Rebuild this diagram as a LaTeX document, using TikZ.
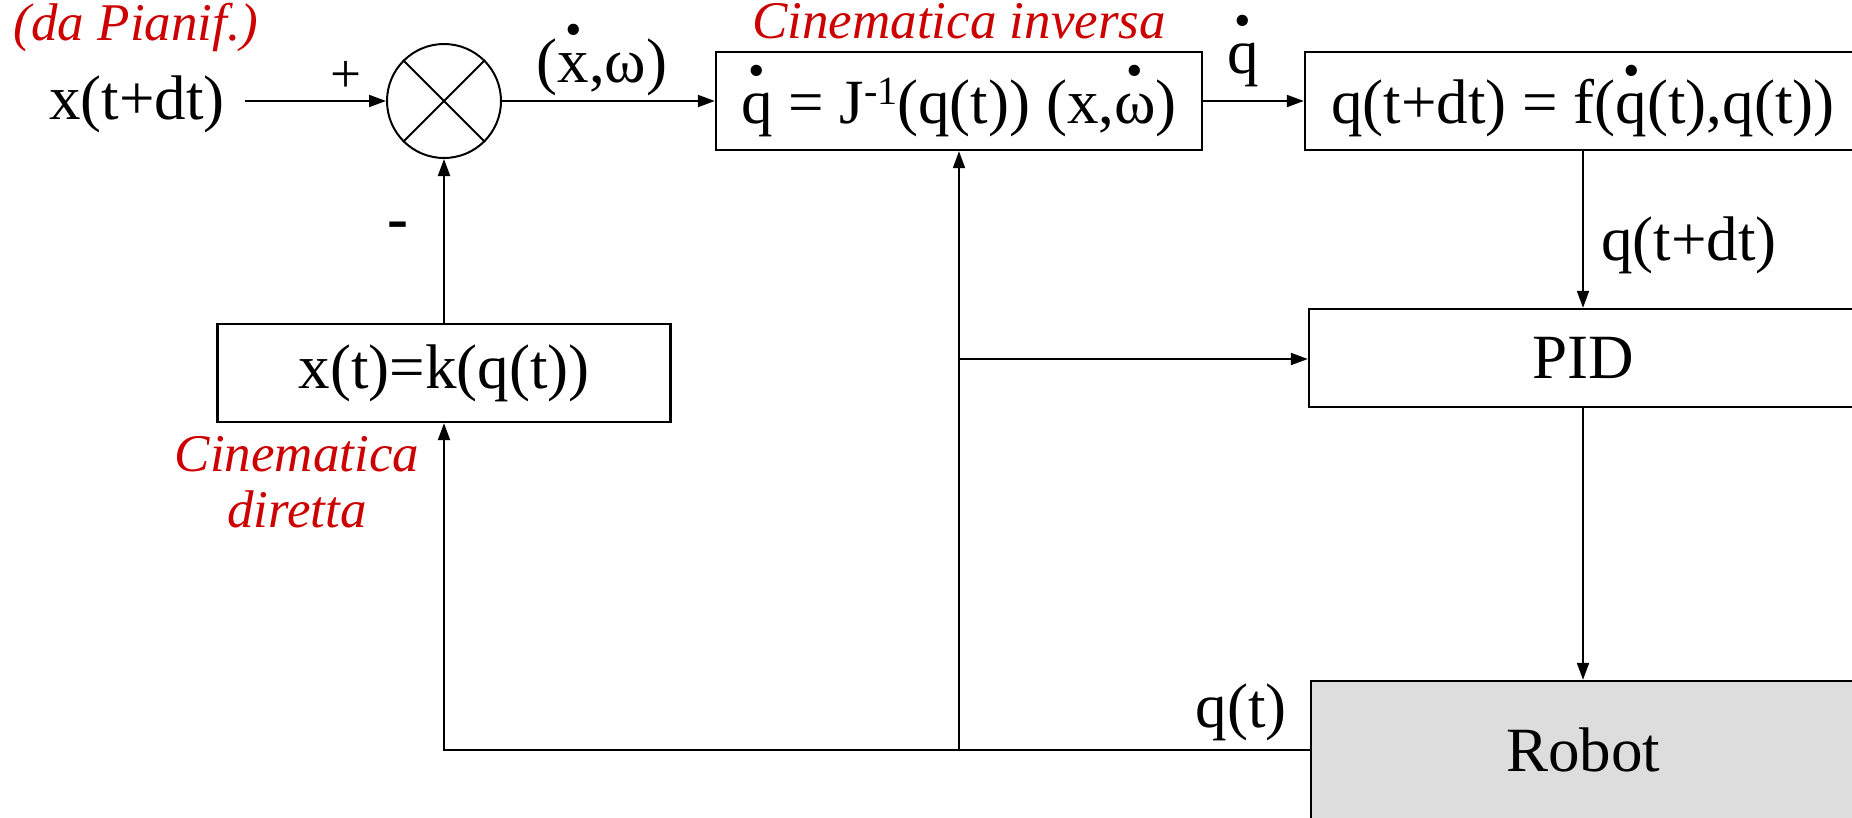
\documentclass[tikz,border=0pt]{standalone}
\usepackage{fontspec}
\setmainfont{Liberation Serif}
\usepackage{graphicx}
\usetikzlibrary{arrows.meta}
\newcommand\dotover[1]{{\setbox0\hbox{#1}\rlap{\hbox to\wd0{\hss\raisebox{0.58em}{\scalebox{0.75}{\textbullet}}\hss}}\box0}}
\newcommand\supm[1]{\raisebox{0.3em}{\fontsize{40}{40}\selectfont #1}}
\definecolor{redtxt}{HTML}{CC0000}
\definecolor{robotgray}{HTML}{DDDDDD}
\begin{document}
\begin{tikzpicture}[x=1pt,y=-1pt,
  box/.style={draw, line width=2.4pt, minimum height=98pt, inner sep=0pt, font=\fontsize{63}{70}\selectfont},
  lbl/.style={font=\fontsize{63}{70}\selectfont, inner sep=0pt},
  note/.style={font=\fontsize{53}{56}\selectfont\itshape, text=redtxt, inner sep=0pt, align=center},
  conn/.style={line width=2pt},
  arr/.style={conn, -{Triangle[length=17pt,width=12pt]}}]
\useasboundingbox (0,0) rectangle (1852,817);
\clip (0,0) rectangle (1852,817);
% blocks
\node[box, minimum width=486pt] (inv) at (959,101) {\dotover{q} = J\supm{-1}(q(t)) (x,\dotover{ω})};
\node[box, minimum width=556pt] (integ) at (1583,101) {q(t+dt) = f(\dotover{q}(t),q(t))};
\node[box, minimum width=548pt] (pid) at (1583,358) {PID};
\node[box, minimum width=544pt, minimum height=138pt, fill=robotgray] (robot) at (1583,750) {Robot};
\node[box, minimum width=453pt] (fk) at (444,373) {x(t)=k(q(t))};
\node[draw, circle, line width=2pt, minimum size=114pt, inner sep=0pt] (sum) at (444,101) {};
\draw[conn] (sum.45) -- (sum.225) (sum.135) -- (sum.-45);
% labels
\node[note] (plan) at (136,27) {(da Pianif.)};
\node[lbl] (xin) at (137,104) {x(t+dt)};
\node[lbl, font=\fontsize{55}{60}\selectfont] (plus) at (346,77) {+};
\node[lbl, font=\fontsize{63}{70}\selectfont\bfseries] (minus) at (398,231) {-};
\node[lbl, anchor=base] (xw) at (602,82) {(\dotover{x},ω)};
\node[note] (invlbl) at (959,21) {Cinematica inversa};
\node[lbl, anchor=base] (qd) at (1243,73) {\dotover{q}};
\node[lbl] (qdt) at (1689,245) {q(t+dt)};
\node[lbl] (qt) at (1241,712) {q(t)};
\node[note] (dirlbl) at (297,482) {Cinematica\\diretta};
% connectors
\coordinate (in) at (245,101);
\coordinate (br) at (959,750);
\coordinate (br2) at (959,359);
\draw[arr] (in) -- (sum.west);
\draw[arr] (sum.east) -- (inv.west);
\draw[arr] (inv.east) -- (integ.west);
\draw[arr] (integ.south) -- (pid.north);
\draw[arr] (pid.south) -- (robot.north);
\draw[conn] (robot.west) -- (br);
\draw[arr] (br) -| (fk.south);
\draw[arr] (br) -- (inv.south);
\draw[arr] (br2) -- (br2 -| pid.west);
\draw[arr] (fk.north) -- (sum.south);
\end{tikzpicture}
\end{document}
